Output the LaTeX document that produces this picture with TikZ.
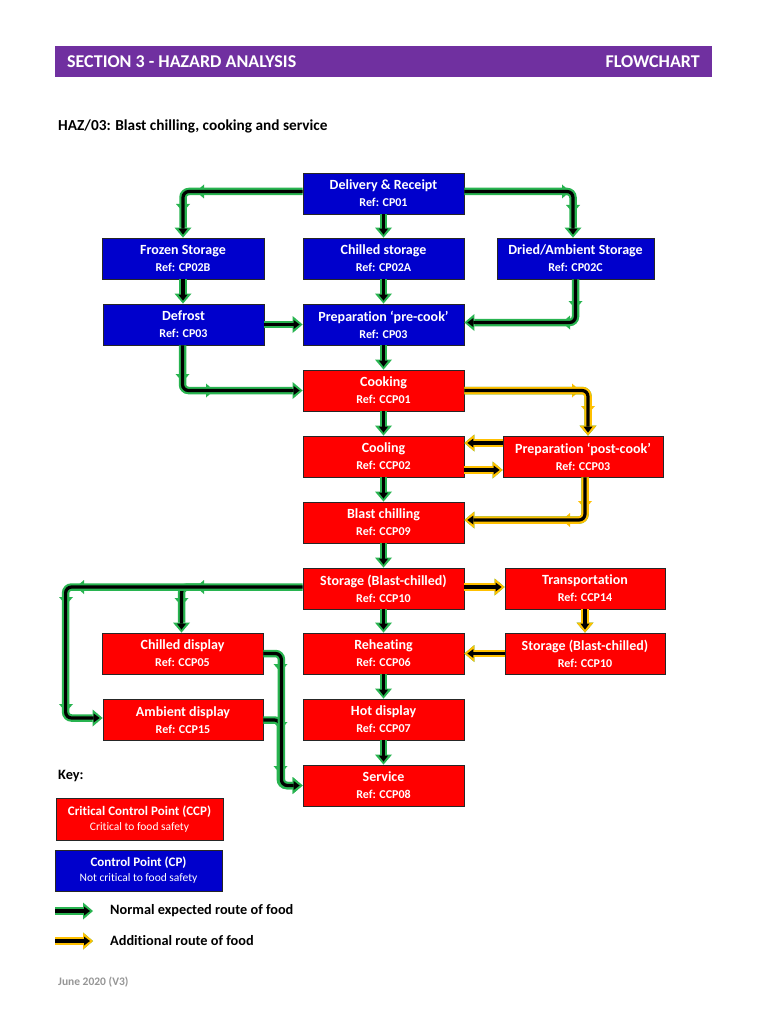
\documentclass[tikz,border=0pt]{standalone}
\usepackage{fontspec}
\setmainfont{Carlito}[Ligatures={NoCommon}]
\usetikzlibrary{arrows.meta,calc}
\definecolor{hdrpurple}{RGB}{112,48,160}
\definecolor{cpblue}{RGB}{0,0,204}
\definecolor{ccpred}{RGB}{255,0,0}
\definecolor{flowgreen}{RGB}{40,180,80}
\definecolor{flowyellow}{RGB}{255,192,0}
\definecolor{footgray}{RGB}{150,150,150}
\newcommand{\boxtext}[2]{#1\\[1pt]{\fontsize{12}{14}\selectfont #2}}
% small arrowhead mark where two route segments meet: position, visual angle, colour
\newcommand{\segmark}[3]{\fill[#3, shift={#1}, rotate=#2] (4,0) -- (-4,7) -- (-4,-7) -- cycle;}
\begin{document}
\begin{tikzpicture}[x=1pt,y=-1pt,
  box/.style={draw=black!85, line width=0.8pt, minimum width=161pt, minimum height=41pt,
    inner sep=0pt, align=center, text=white, font=\bfseries\fontsize{14}{16}\selectfont},
  ccp/.style={box, fill=ccpred},
  cp/.style={box, fill=cpblue},
  garr/.style={line width=3.2pt, draw=black, rounded corners=6pt,
    -{Triangle[length=6pt,width=9pt,line width=0pt]}, shorten >=3pt,
    preaction={draw=flowgreen, line width=7.5pt, -{Triangle[length=10pt,width=17pt,line width=0pt]}, shorten >=0pt}},
  yarr/.style={garr, preaction={draw=flowyellow, line width=7.5pt, -{Triangle[length=10pt,width=17pt,line width=0pt]}, shorten >=0pt}},
  lbl/.style={inner sep=0pt, anchor=west, font=\bfseries\fontsize{14.3}{16}\selectfont}
]
\useasboundingbox (0,0) rectangle (768,1024);
\fill[white] (0,0) rectangle (768,1024);

% header
\node[fill=hdrpurple, minimum width=657pt, minimum height=31pt, inner sep=0pt, anchor=north west] (hdr) at (55,46) {};
\node[lbl, text=white, font=\bfseries\fontsize{18}{20}\selectfont] (hdrl) at (67,62) {SECTION 3 - HAZARD ANALYSIS};
\node[lbl, anchor=east, text=white, font=\bfseries\fontsize{18}{20}\selectfont] (hdrr) at (700,62) {FLOWCHART};
\node[lbl, font=\bfseries\fontsize{15.3}{17}\selectfont] (title) at (58,126) {HAZ/03: Blast chilling, cooking and service};

% boxes
\node[cp] (deliv) at (383.5,193.5) {\boxtext{Delivery \& Receipt}{Ref: CP01}};
\node[cp] (chilled) at (383.5,258.5) {\boxtext{Chilled storage}{Ref: CP02A}};
\node[cp, minimum width=162pt] (frozen) at (183,258.5) {\boxtext{Frozen Storage}{Ref: CP02B}};
\node[cp, minimum width=157pt] (dried) at (575.5,258.5) {\boxtext{Dried/Ambient Storage}{Ref: CP02C}};
\node[cp] (defrost) at (183.5,324.5) {\boxtext{Defrost}{Ref: CP03}};
\node[cp] (prepre) at (383.5,324.5) {\boxtext{Preparation ‘pre-cook’}{Ref: CP03}};
\node[ccp] (cooking) at (383.5,390.5) {\boxtext{Cooking}{Ref: CCP01}};
\node[ccp] (cooling) at (383.5,456.5) {\boxtext{Cooling}{Ref: CCP02}};
\node[ccp, minimum width=160pt] (postcook) at (583,456.5) {\boxtext{Preparation ‘post-cook’}{Ref: CCP03}};
\node[ccp] (blast) at (383.5,522.5) {\boxtext{Blast chilling}{Ref: CCP09}};
\node[ccp] (storage) at (383.5,588.5) {\boxtext{Storage (Blast-chilled)}{Ref: CCP10}};
\node[ccp, minimum width=160pt] (transport) at (585,588.5) {\boxtext{Transportation}{Ref: CCP14}};
\node[ccp, minimum width=160pt] (storage2) at (585,653.5) {\boxtext{Storage (Blast-chilled)}{Ref: CCP10}};
\node[ccp] (reheat) at (383.5,653.5) {\boxtext{Reheating}{Ref: CCP06}};
\node[ccp] (chdisp) at (182.5,653.5) {\boxtext{Chilled display}{Ref: CCP05}};
\node[ccp, minimum width=160pt] (ambdisp) at (183,720) {\boxtext{Ambient display}{Ref: CCP15}};
\node[ccp] (hotdisp) at (383.5,719.5) {\boxtext{Hot display}{Ref: CCP07}};
\node[ccp] (service) at (383.5,785.5) {\boxtext{Service}{Ref: CCP08}};

% segment marks (drawn beneath the routes)
\segmark{(200,191.5)}{180}{flowgreen}
\segmark{(183,208)}{270}{flowgreen}
\segmark{(566,191.5)}{0}{flowgreen}
\segmark{(573,209)}{270}{flowgreen}
\segmark{(575.5,305)}{270}{flowgreen}
\segmark{(566,322.5)}{180}{flowgreen}
\segmark{(182.5,378)}{270}{flowgreen}
\segmark{(210,390.5)}{0}{flowgreen}
\segmark{(200,587)}{180}{flowgreen}
\segmark{(80,587)}{180}{flowgreen}
\segmark{(66,601)}{270}{flowgreen}
\segmark{(66,708)}{270}{flowgreen}
\segmark{(181.5,602)}{270}{flowgreen}
\segmark{(280.5,668)}{270}{flowgreen}
\segmark{(280.5,726)}{270}{flowgreen}
\segmark{(280.5,770)}{270}{flowgreen}
\segmark{(576,390.5)}{0}{flowyellow}
\segmark{(588,410)}{270}{flowyellow}
\segmark{(585,505)}{270}{flowyellow}
\segmark{(566,520)}{180}{flowyellow}

% green arrows
\draw[garr] ($(deliv.west)+(0,-2)$) -| (frozen.north);
\draw[garr] (deliv.south) -- (chilled.north);
\draw[garr] ($(deliv.east)+(0,-2)$) -| ($(dried.north)+(-2.5,0)$);
\draw[garr] (frozen.south) -- (frozen.south |- defrost.north);
\draw[garr] (chilled.south) -- (prepre.north);
\draw[garr] (defrost.east) -- (prepre.west);
\draw[garr] (dried.south) |- ($(prepre.east)+(0,-2)$);
\draw[garr] ($(defrost.south)+(-1,0)$) |- (cooking.west);
\draw[garr] (prepre.south) -- (cooking.north);
\draw[garr] (cooking.south) -- (cooling.north);
\draw[garr] (cooling.south) -- (blast.north);
\draw[garr] (blast.south) -- (storage.north);
\draw[garr] ($(chdisp.north |- storage.west)+(18,-1.5)$) -| ($(chdisp.north)+(-1,0)$);
\draw[garr] ($(storage.west)+(0,-1.5)$) -| ($(ambdisp.west)+(-37,-2)$) -- ($(ambdisp.west)+(0,-2)$);
\draw[garr] (storage.south) -- (reheat.north);
\draw[garr] (reheat.south) -- (hotdisp.north);
\draw[garr] (hotdisp.south) -- (service.north);
\draw[garr] (ambdisp.east) -- ++(17,0) |- (service.west);
\draw[garr] (chdisp.east) -- ++(18,0) |- (service.west);

% yellow arrows
\draw[yarr] (cooking.east) -| ($(postcook.north)+(5,0)$);
\draw[yarr] ($(postcook.west)+(0,-13.5)$) -- ($(cooling.east)+(0,-13.5)$);
\draw[yarr] ($(cooling.east)+(0,13.5)$) -- ($(postcook.west)+(0,13.5)$);
\draw[yarr] ($(postcook.south)+(2,0)$) |- ($(blast.east)+(0,-2.5)$);
\draw[yarr] ($(storage.east)+(0,-1.5)$) -- ($(transport.west)+(0,-1.5)$);
\draw[yarr] (transport.south) -- (storage2.north);
\draw[yarr] (storage2.west) -- (reheat.east);

% key
\node[lbl] (key) at (58,776) {Key:};
\node[ccp, minimum width=167pt, minimum height=42pt] (kccp) at (139.5,819)
  {{\fontsize{13}{15}\selectfont Critical Control Point (CCP)}\\[-1pt]{\mdseries\fontsize{11.5}{13}\selectfont Critical to food safety}};
\node[cp, minimum width=167pt, minimum height=41pt] (kcp) at (138.5,870.5)
  {{\fontsize{13}{15}\selectfont Control Point (CP)}\\[-1pt]{\mdseries\fontsize{11.5}{13}\selectfont Not critical to food safety}};
\coordinate (kg1) at (55,911);
\coordinate (kg2) at (93,911);
\coordinate (ky1) at (55,941);
\coordinate (ky2) at (93,941);
\draw[garr] (kg1) -- (kg2);
\draw[yarr] (ky1) -- (ky2);
\node[lbl] (kgt) at (110,911) {Normal expected route of food};
\node[lbl] (kyt) at (110,941) {Additional route of food};
\node[lbl, text=footgray, font=\bfseries\fontsize{11.5}{13}\selectfont] (foot) at (58,982) {June 2020 (V3)};
\end{tikzpicture}
\end{document}
